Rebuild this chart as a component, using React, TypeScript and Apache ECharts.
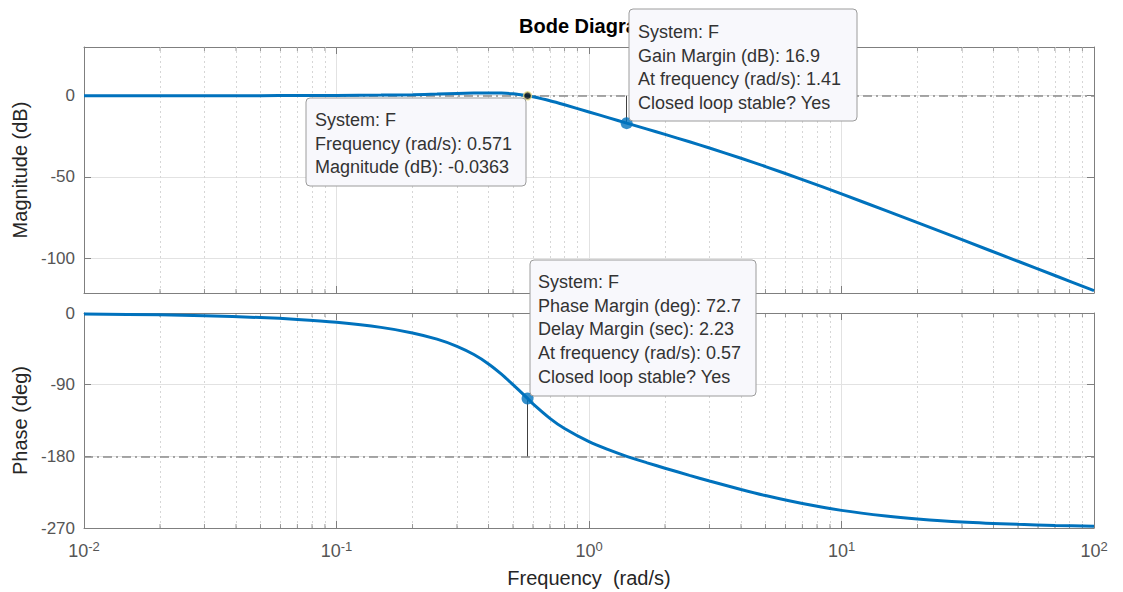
import React, { useEffect, useRef } from "react";
import * as echarts from "echarts";

// Frequency samples (rad/s)
const freqs = [0.01, 0.02, 0.03, 0.05, 0.07, 0.1, 0.15, 0.2, 0.25, 0.3, 0.35, 0.4, 0.45, 0.5, 0.571, 0.6, 0.7, 0.8, 1, 1.2, 1.41, 1.7, 2, 2.5, 3, 4, 5, 7, 10, 15, 20, 30, 50, 70, 100];
// Magnitude (dB)
const magDb = [0.0, 0.01, 0.02, 0.04, 0.08, 0.17, 0.38, 0.66, 0.99, 1.32, 1.6, 1.73, 1.61, 1.16, -0.04, -0.65, -3.09, -5.58, -10.0, -13.64, -16.9, -20.56, -23.82, -28.38, -32.22, -38.52, -43.62, -51.65, -60.49, -70.79, -78.19, -88.68, -101.96, -110.72, -120.01];
// Phase (deg)
const phaseDeg = [-1.15, -2.29, -3.45, -5.76, -8.11, -11.71, -18.05, -25.02, -32.86, -41.84, -52.19, -63.94, -76.78, -90, -107.3, -114.09, -132.25, -145.1, -161.57, -171.96, -180, -188.15, -194.93, -203.88, -210.96, -221.63, -229.28, -239.35, -247.85, -254.96, -258.64, -262.39, -265.42, -266.73, -267.71];

const minorFreqs = [0.02, 0.03, 0.04, 0.05, 0.06, 0.07, 0.08, 0.09, 0.2, 0.3, 0.4, 0.5, 0.6, 0.7, 0.8, 0.9, 2, 3, 4, 5, 6, 7, 8, 9, 20, 30, 40, 50, 60, 70, 80, 90];
const magTickLabels = [0, -50, -100];
const phaseTickLabels = [0, -90, -180, -270];

// Axis extents
const freqMin = 0.01;
const freqMax = 100;
const magMin = -121.5;
const magMax = 30;
const phaseMin = -270;
const phaseMax = 0;

// Margins
const gmFreq = 1.41;
const gmDb = -16.9;
const pmFreq = 0.571;
const pmPhase = -107.3;
const tipFreq = 0.571;
const tipMag = -0.0363;

const tipTexts1 = ["System: F", "Frequency (rad/s): 0.571", "Magnitude (dB): -0.0363"];
const tipTexts2 = ["System: F", "Gain Margin (dB): 16.9", "At frequency (rad/s): 1.41", "Closed loop stable? Yes"];
const tipTexts3 = ["System: F", "Phase Margin (deg): 72.7", "Delay Margin (sec): 2.23", "At frequency (rad/s): 0.57", "Closed loop stable? Yes"];

const FONT = '"Liberation Sans", Arial, Helvetica, sans-serif';
const BLUE = "#0072BD";
const AXIS = "#7f7f7f";
const LABEL = "#555555";
const GRID = "#e2e2e2";

function tip(x: number, y: number, w: number, h: number, lines: string[], tx: number, ty0: number, dy: number) {
  return {
    type: "group",
    z: 100,
    children: [
      {
        type: "rect",
        z: 100,
        shape: { x, y, width: w, height: h, r: 4 },
        style: { fill: "#f8f8fc", stroke: "#9c9c9c", lineWidth: 1 },
      },
      ...lines.map((t, i) => ({
        type: "text",
        z: 101,
        x: tx,
        y: ty0 + i * dy,
        style: { text: t, fill: "#333333", fontSize: 18, fontFamily: FONT, verticalAlign: "middle", align: "left" },
      })),
    ],
  };
}

export default function App() {
  const ref = useRef<HTMLDivElement>(null);
  useEffect(() => {
    if (!ref.current) return;
    const chart = echarts.init(ref.current, undefined, { renderer: "svg" });

    const expFmt = (v: number) => `{b|10}{s|${Math.round(Math.log10(v))}}`;

    const xBase = (gridIndex: number, position: string, labels: boolean) => ({
      type: "log",
      logBase: 10,
      min: freqMin,
      max: freqMax,
      gridIndex,
      position,
      axisLine: { show: true, onZero: false, lineStyle: { color: AXIS, width: 1 } },
      axisTick: { show: true, inside: true, length: 7, lineStyle: { color: AXIS } },
      splitLine: { show: position === "bottom", lineStyle: { color: GRID, width: 1 } },
      axisLabel: labels
        ? {
            show: true,
            margin: 12,
            formatter: expFmt,
            rich: {
              b: { fontSize: 18, color: LABEL, fontFamily: FONT, lineHeight: 22 },
              s: { fontSize: 13, color: LABEL, fontFamily: FONT, verticalAlign: "top", lineHeight: 14 },
            },
          }
        : { show: false },
    });

    const yBase = (gridIndex: number, position: string, min: number, max: number, extra: any) => ({
      type: "value",
      gridIndex,
      position,
      min,
      max,
      axisLine: { show: true, onZero: false, lineStyle: { color: AXIS, width: 1 } },
      axisTick: { show: true, inside: true, length: 7, lineStyle: { color: AXIS } },
      splitLine: { show: false },
      axisLabel: { show: false },
      ...extra,
    });

    const minorTicks = (xi: number, yi: number, top: number, bottom: number) => ({
      type: "scatter",
      xAxisIndex: xi,
      yAxisIndex: yi,
      silent: true,
      z: 6,
      symbol: "rect",
      data: [
        ...minorFreqs.map((f) => ({ value: [f, top], symbolOffset: [0, 2] })),
        ...minorFreqs.map((f) => ({ value: [f, bottom], symbolOffset: [0, -2] })),
      ],
      symbolSize: [1, 4],
      itemStyle: { color: AXIS },
      clip: false,
    });

    const minorGrid = (xi: number, yi: number) => ({
      type: "line",
      xAxisIndex: xi,
      yAxisIndex: yi,
      data: [],
      silent: true,
      z: 1,
      markLine: {
        silent: true,
        symbol: "none",
        label: { show: false },
        lineStyle: { color: "#d6d6d6", width: 1, type: [2, 3] },
        data: minorFreqs.map((f) => ({ xAxis: f })),
      },
    });

    const option: any = {
      animation: false,
      backgroundColor: "#ffffff",
      textStyle: { fontFamily: FONT },
      title: {
        text: "Bode Diagram",
        left: 514,
        top: 11,
        textStyle: { fontSize: 20, fontWeight: "bold", color: "#000000", fontFamily: FONT },
      },
      grid: [
        { left: 84, top: 47, width: 1010, height: 246 },
        { left: 84, top: 313, width: 1010, height: 215 },
      ],
      xAxis: [
        xBase(0, "bottom", false),
        xBase(0, "top", false),
        {
          ...xBase(1, "bottom", true),
          name: "Frequency  (rad/s)",
          nameLocation: "middle",
          nameGap: 40,
          nameTextStyle: { fontSize: 20, color: "#262626", fontFamily: FONT },
        },
        xBase(1, "top", false),
      ],
      yAxis: [
        yBase(0, "left", magMin, magMax, {
          splitNumber: 3,
          name: "Magnitude (dB)",
          nameLocation: "middle",
          nameGap: 48,
          nameTextStyle: { fontSize: 20, color: "#262626", fontFamily: FONT },
          splitLine: { show: true, lineStyle: { color: GRID, width: 1 } },
          axisLabel: {
            show: true,
            showMinLabel: false,
            showMaxLabel: false,
            fontSize: 17,
            color: LABEL,
            margin: 9,
            formatter: (v: number) => (magTickLabels.includes(v) ? String(v) : ""),
          },
        }),
        yBase(0, "right", magMin, magMax, { splitNumber: 3 }),
        yBase(1, "left", phaseMin, phaseMax, {
          interval: 90,
          name: "Phase (deg)",
          nameLocation: "middle",
          nameGap: 48,
          nameTextStyle: { fontSize: 20, color: "#262626", fontFamily: FONT },
          splitLine: { show: true, lineStyle: { color: GRID, width: 1 } },
          axisLabel: {
            show: true,
            fontSize: 17,
            color: LABEL,
            margin: 9,
            formatter: (v: number) => (phaseTickLabels.includes(v) ? String(v) : ""),
          },
        }),
        yBase(1, "right", phaseMin, phaseMax, { interval: 90 }),
      ],
      series: [
        minorGrid(0, 0),
        minorGrid(2, 2),
        {
          type: "line",
          xAxisIndex: 0,
          yAxisIndex: 0,
          data: [],
          z: 2,
          markLine: {
            silent: true,
            symbol: "none",
            label: { show: false },
            lineStyle: { color: "#8c8c8c", width: 1.5, type: [9, 4, 2, 4] },
            data: [{ yAxis: 0 }],
          },
        },
        {
          type: "line",
          xAxisIndex: 2,
          yAxisIndex: 2,
          data: [],
          z: 2,
          markLine: {
            silent: true,
            symbol: "none",
            label: { show: false },
            lineStyle: { color: "#8c8c8c", width: 1.5, type: [9, 4, 2, 4] },
            data: [{ yAxis: -180 }],
          },
        },
        {
          type: "line",
          xAxisIndex: 0,
          yAxisIndex: 0,
          data: [],
          z: 3,
          markLine: {
            silent: true,
            symbol: "none",
            label: { show: false },
            lineStyle: { color: "#404040", width: 1, type: "solid" },
            data: [[{ coord: [gmFreq, 0] }, { coord: [gmFreq, gmDb] }]],
          },
        },
        {
          type: "line",
          xAxisIndex: 2,
          yAxisIndex: 2,
          data: [],
          z: 3,
          markLine: {
            silent: true,
            symbol: "none",
            label: { show: false },
            lineStyle: { color: "#404040", width: 1, type: "solid" },
            data: [[{ coord: [pmFreq, -180] }, { coord: [pmFreq, pmPhase] }]],
          },
        },
        {
          name: "Magnitude",
          type: "line",
          xAxisIndex: 0,
          yAxisIndex: 0,
          z: 10,
          smooth: 0.3,
          showSymbol: false,
          symbol: "none",
          lineStyle: { color: BLUE, width: 3 },
          data: freqs.map((f, i) => [f, magDb[i]]),
        },
        {
          name: "Phase",
          type: "line",
          xAxisIndex: 2,
          yAxisIndex: 2,
          z: 10,
          smooth: 0.3,
          showSymbol: false,
          symbol: "none",
          lineStyle: { color: BLUE, width: 3 },
          data: freqs.map((f, i) => [f, phaseDeg[i]]),
        },
        minorTicks(0, 0, magMax, magMin),
        minorTicks(2, 2, phaseMax, phaseMin),
        {
          type: "scatter",
          xAxisIndex: 0,
          yAxisIndex: 0,
          z: 12,
          symbol: "circle",
          symbolSize: 12,
          itemStyle: { color: BLUE },
          data: [[gmFreq, gmDb]],
        },
        {
          type: "scatter",
          xAxisIndex: 0,
          yAxisIndex: 0,
          z: 13,
          symbol: "circle",
          symbolSize: 8,
          itemStyle: { color: "#111111", borderColor: "#e8df8a", borderWidth: 1.5 },
          data: [[tipFreq, tipMag]],
        },
        {
          type: "scatter",
          xAxisIndex: 2,
          yAxisIndex: 2,
          z: 12,
          symbol: "circle",
          symbolSize: 12,
          itemStyle: { color: BLUE },
          data: [[pmFreq, pmPhase]],
        },
      ],
      graphic: [
        tip(306, 98, 220, 88, tipTexts1, 315, 120, 23.5),
        tip(629, 9, 228, 112, tipTexts2, 638, 32, 23.5),
        tip(530, 260, 226, 136, tipTexts3, 538, 282, 23.7),
      ],
    };

    chart.setOption(option);
    return () => chart.dispose();
  }, []);

  return <div ref={ref} style={{ position: "fixed", left: 0, top: 0, width: 1123, height: 592 }} />;
}
